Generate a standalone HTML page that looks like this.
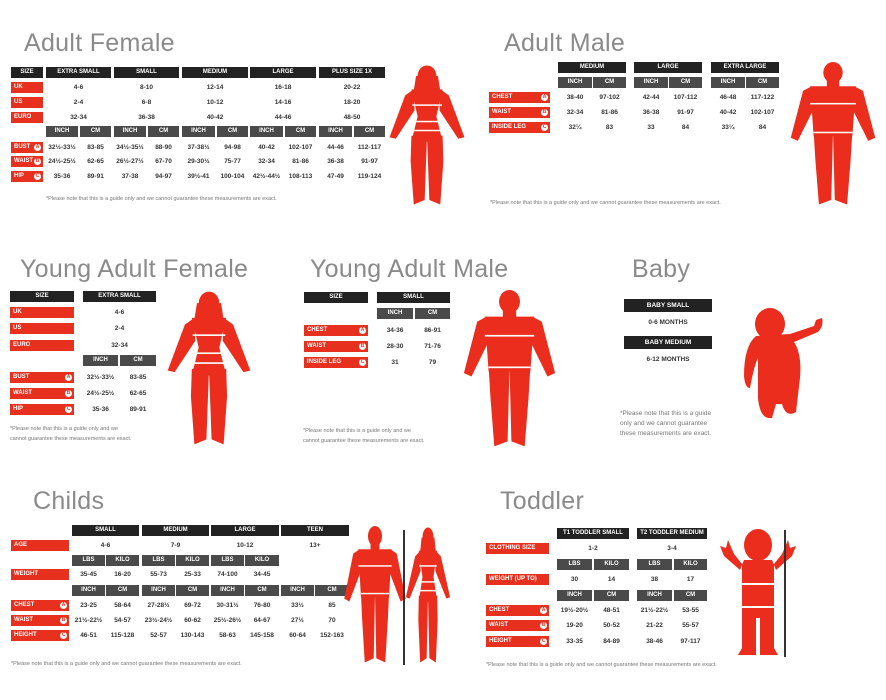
<!DOCTYPE html>
<html><head><meta charset="utf-8">
<style>
body{margin:0;width:886px;height:700px;background:#fff;position:relative;overflow:hidden;font-family:"Liberation Sans",sans-serif}
div{position:absolute;box-sizing:border-box}
.t{font-size:25px;color:#8a8a8a;font-weight:normal;letter-spacing:0.3px;white-space:nowrap}
.b{background:#222;color:#fff;font-size:6px;font-weight:bold;text-align:center;line-height:11px;height:11px}
.g{background:#4a4a4a;color:#fff;font-size:6px;font-weight:bold;text-align:center;line-height:11px;height:11px}
.r{background:#e8301e;color:#fff;font-size:6px;font-weight:bold;line-height:11px;height:11px;padding-left:3px;white-space:nowrap}
.r i{position:absolute;right:2px;top:2px;width:7px;height:7px;border-radius:50%;background:#fff;color:#e8301e;font-style:normal;font-size:5px;line-height:7px;text-align:center}
.v{font-size:6.5px;font-weight:bold;color:#333;text-align:center;line-height:11px;height:11px;white-space:nowrap}
.n{font-size:5.5px;color:#777;white-space:nowrap;line-height:10px}
svg{position:absolute}
</style></head><body>
<svg width="0" height="0" style="position:absolute">
<defs>
<symbol id="h" viewBox="0 0 100 190" preserveAspectRatio="none">
<g fill="#ea2d1c">
<ellipse cx="50" cy="14" rx="11" ry="14"/>
<rect x="43" y="24" width="14" height="10"/>
<polygon points="24,32 76,32 72,98 28,98"/>
<polygon points="26,32 16,38 2,100 10,104 28,62"/>
<polygon points="74,32 84,38 98,100 90,104 72,62"/>
<polygon points="28,92 50,92 48,182 34,188 30,130"/>
<polygon points="72,92 50,92 52,182 66,188 70,130"/>
</g>
<g fill="#fff"><rect x="24" y="54" width="52" height="2"/><rect x="28" y="92" width="44" height="2"/></g>
</symbol>
<symbol id="f" viewBox="0 0 100 190" preserveAspectRatio="none">
<g fill="#ea2d1c">
<ellipse cx="50" cy="16" rx="12" ry="14"/>
<polygon points="36,16 64,16 68,42 32,42"/>
<polygon points="30,34 70,34 62,70 70,104 30,104 38,70"/>
<polygon points="33,34 22,42 2,98 10,100 34,62"/>
<polygon points="67,34 78,42 98,98 90,100 66,62"/>
<polygon points="30,96 50,96 47,182 33,188 29,130"/>
<polygon points="70,96 50,96 53,182 67,188 71,130"/>
</g>
<g fill="#fff"><rect x="31" y="54" width="38" height="2"/><rect x="36" y="76" width="28" height="2"/><rect x="32" y="88" width="36" height="2"/></g>
</symbol>
</defs></svg>

<!-- Adult Female -->
<div class="t" style="left:24px;top:29px">Adult Female</div>
<div class="b" style="left:11px;top:67px;width:32px">SIZE</div>
<div class="b" style="left:46px;top:67px;width:65px">EXTRA SMALL</div>
<div class="b" style="left:114px;top:67px;width:65px">SMALL</div>
<div class="b" style="left:182px;top:67px;width:66px">MEDIUM</div>
<div class="b" style="left:250px;top:67px;width:66px">LARGE</div>
<div class="b" style="left:319px;top:67px;width:66px">PLUS SIZE 1X</div>
<div class="r" style="left:11px;top:82px;width:32px">UK</div>
<div class="r" style="left:11px;top:97px;width:32px">US</div>
<div class="r" style="left:11px;top:112px;width:32px">EURO</div>
<div class="v" style="left:46px;top:82px;width:65px">4-6</div><div class="v" style="left:114px;top:82px;width:65px">8-10</div><div class="v" style="left:182px;top:82px;width:66px">12-14</div><div class="v" style="left:250px;top:82px;width:66px">16-18</div><div class="v" style="left:319px;top:82px;width:66px">20-22</div>
<div class="v" style="left:46px;top:97px;width:65px">2-4</div><div class="v" style="left:114px;top:97px;width:65px">6-8</div><div class="v" style="left:182px;top:97px;width:66px">10-12</div><div class="v" style="left:250px;top:97px;width:66px">14-16</div><div class="v" style="left:319px;top:97px;width:66px">18-20</div>
<div class="v" style="left:46px;top:112px;width:65px">32-34</div><div class="v" style="left:114px;top:112px;width:65px">36-38</div><div class="v" style="left:182px;top:112px;width:66px">40-42</div><div class="v" style="left:250px;top:112px;width:66px">44-46</div><div class="v" style="left:319px;top:112px;width:66px">48-50</div>
<div class="g" style="left:46px;top:126px;width:32px">INCH</div><div class="g" style="left:80px;top:126px;width:31px">CM</div>
<div class="g" style="left:114px;top:126px;width:32px">INCH</div><div class="g" style="left:148px;top:126px;width:31px">CM</div>
<div class="g" style="left:182px;top:126px;width:33px">INCH</div><div class="g" style="left:217px;top:126px;width:31px">CM</div>
<div class="g" style="left:250px;top:126px;width:33px">INCH</div><div class="g" style="left:285px;top:126px;width:31px">CM</div>
<div class="g" style="left:319px;top:126px;width:33px">INCH</div><div class="g" style="left:354px;top:126px;width:31px">CM</div>
<div class="r" style="left:11px;top:142px;width:32px">BUST<i>A</i></div>
<div class="r" style="left:11px;top:156px;width:32px">WAIST<i>B</i></div>
<div class="r" style="left:11px;top:171px;width:32px">HIP<i>C</i></div>
<div class="v" style="left:46px;top:142px;width:32px">32½-33½</div><div class="v" style="left:80px;top:142px;width:31px">83-85</div><div class="v" style="left:114px;top:142px;width:32px">34½-35½</div><div class="v" style="left:148px;top:142px;width:31px">88-90</div><div class="v" style="left:182px;top:142px;width:33px">37-38½</div><div class="v" style="left:217px;top:142px;width:31px">94-98</div><div class="v" style="left:250px;top:142px;width:33px">40-42</div><div class="v" style="left:285px;top:142px;width:31px">102-107</div><div class="v" style="left:319px;top:142px;width:33px">44-46</div><div class="v" style="left:354px;top:142px;width:31px">112-117</div>
<div class="v" style="left:46px;top:156px;width:32px">24½-25½</div><div class="v" style="left:80px;top:156px;width:31px">62-65</div><div class="v" style="left:114px;top:156px;width:32px">26½-27½</div><div class="v" style="left:148px;top:156px;width:31px">67-70</div><div class="v" style="left:182px;top:156px;width:33px">29-30½</div><div class="v" style="left:217px;top:156px;width:31px">75-77</div><div class="v" style="left:250px;top:156px;width:33px">32-34</div><div class="v" style="left:285px;top:156px;width:31px">81-86</div><div class="v" style="left:319px;top:156px;width:33px">36-38</div><div class="v" style="left:354px;top:156px;width:31px">91-97</div>
<div class="v" style="left:46px;top:171px;width:32px">35-36</div><div class="v" style="left:80px;top:171px;width:31px">89-91</div><div class="v" style="left:114px;top:171px;width:32px">37-38</div><div class="v" style="left:148px;top:171px;width:31px">94-97</div><div class="v" style="left:182px;top:171px;width:33px">39½-41</div><div class="v" style="left:217px;top:171px;width:31px">100-104</div><div class="v" style="left:250px;top:171px;width:33px">42½-44½</div><div class="v" style="left:285px;top:171px;width:31px">108-113</div><div class="v" style="left:319px;top:171px;width:33px">47-49</div><div class="v" style="left:354px;top:171px;width:31px">119-124</div>
<div class="n" style="left:46px;top:194px">*Please note that this is a guide only and we cannot guarantee these measurements are exact.</div>
<svg style="left:388px;top:64px" width="78" height="142"><use href="#f" width="78" height="142"/></svg>

<!-- Adult Male -->
<div class="t" style="left:504px;top:29px">Adult Male</div>
<div class="b" style="left:558px;top:62px;width:68px">MEDIUM</div>
<div class="b" style="left:634px;top:62px;width:68px">LARGE</div>
<div class="b" style="left:711px;top:62px;width:68px">EXTRA LARGE</div>
<div class="g" style="left:558px;top:77px;width:34px">INCH</div><div class="g" style="left:593px;top:77px;width:33px">CM</div>
<div class="g" style="left:634px;top:77px;width:34px">INCH</div><div class="g" style="left:669px;top:77px;width:33px">CM</div>
<div class="g" style="left:711px;top:77px;width:34px">INCH</div><div class="g" style="left:746px;top:77px;width:33px">CM</div>
<div class="r" style="left:489px;top:92px;width:61px">CHEST<i>A</i></div>
<div class="r" style="left:489px;top:107px;width:61px">WAIST<i>B</i></div>
<div class="r" style="left:489px;top:122px;width:61px">INSIDE LEG<i>C</i></div>
<div class="v" style="left:558px;top:92px;width:34px">38-40</div><div class="v" style="left:593px;top:92px;width:33px">97-102</div><div class="v" style="left:634px;top:92px;width:34px">42-44</div><div class="v" style="left:669px;top:92px;width:33px">107-112</div><div class="v" style="left:711px;top:92px;width:34px">46-48</div><div class="v" style="left:746px;top:92px;width:33px">117-122</div>
<div class="v" style="left:558px;top:107px;width:34px">32-34</div><div class="v" style="left:593px;top:107px;width:33px">81-86</div><div class="v" style="left:634px;top:107px;width:34px">36-38</div><div class="v" style="left:669px;top:107px;width:33px">91-97</div><div class="v" style="left:711px;top:107px;width:34px">40-42</div><div class="v" style="left:746px;top:107px;width:33px">102-107</div>
<div class="v" style="left:558px;top:122px;width:34px">32¼</div><div class="v" style="left:593px;top:122px;width:33px">83</div><div class="v" style="left:634px;top:122px;width:34px">33</div><div class="v" style="left:669px;top:122px;width:33px">84</div><div class="v" style="left:711px;top:122px;width:34px">33¼</div><div class="v" style="left:746px;top:122px;width:33px">84</div>
<div class="n" style="left:490px;top:198px">*Please note that this is a guide only and we cannot guarantee these measurements are exact.</div>
<svg style="left:789px;top:62px" width="88" height="144"><use href="#h" width="88" height="144"/></svg>

<!-- Young Adult Female -->
<div class="t" style="left:20px;top:255px">Young Adult Female</div>
<div class="b" style="left:10px;top:291px;width:64px">SIZE</div>
<div class="b" style="left:83px;top:291px;width:73px">EXTRA SMALL</div>
<div class="r" style="left:10px;top:307px;width:64px">UK</div><div class="v" style="left:83px;top:307px;width:73px">4-6</div>
<div class="r" style="left:10px;top:323px;width:64px">US</div><div class="v" style="left:83px;top:323px;width:73px">2-4</div>
<div class="r" style="left:10px;top:340px;width:64px">EURO</div><div class="v" style="left:83px;top:340px;width:73px">32-34</div>
<div class="g" style="left:83px;top:355px;width:35px">INCH</div><div class="g" style="left:120px;top:355px;width:36px">CM</div>
<div class="r" style="left:10px;top:372px;width:64px">BUST<i>A</i></div><div class="v" style="left:83px;top:372px;width:35px">32½-33½</div><div class="v" style="left:120px;top:372px;width:36px">83-85</div>
<div class="r" style="left:10px;top:388px;width:64px">WAIST<i>B</i></div><div class="v" style="left:83px;top:388px;width:35px">24½-25½</div><div class="v" style="left:120px;top:388px;width:36px">62-65</div>
<div class="r" style="left:10px;top:404px;width:64px">HIP<i>C</i></div><div class="v" style="left:83px;top:404px;width:35px">35-36</div><div class="v" style="left:120px;top:404px;width:36px">89-91</div>
<div class="n" style="left:10px;top:424px">*Please note that this is a guide only and we<br>cannot guarantee these measurements are exact.</div>
<svg style="left:166px;top:290px" width="86" height="156"><use href="#f" width="86" height="156"/></svg>

<!-- Young Adult Male -->
<div class="t" style="left:310px;top:255px">Young Adult Male</div>
<div class="b" style="left:304px;top:292px;width:64px">SIZE</div>
<div class="b" style="left:377px;top:292px;width:73px">SMALL</div>
<div class="g" style="left:377px;top:308px;width:36px">INCH</div><div class="g" style="left:415px;top:308px;width:35px">CM</div>
<div class="r" style="left:304px;top:325px;width:64px">CHEST<i>A</i></div><div class="v" style="left:377px;top:325px;width:36px">34-36</div><div class="v" style="left:415px;top:325px;width:35px">86-91</div>
<div class="r" style="left:304px;top:341px;width:64px">WAIST<i>B</i></div><div class="v" style="left:377px;top:341px;width:36px">28-30</div><div class="v" style="left:415px;top:341px;width:35px">71-76</div>
<div class="r" style="left:304px;top:357px;width:64px">INSIDE LEG<i>C</i></div><div class="v" style="left:377px;top:357px;width:36px">31</div><div class="v" style="left:415px;top:357px;width:35px">79</div>
<div class="n" style="left:303px;top:426px">*Please note that this is a guide only and we<br>cannot guarantee these measurements are exact.</div>
<svg style="left:462px;top:290px" width="95" height="158"><use href="#h" width="95" height="158"/></svg>

<!-- Baby -->
<div class="t" style="left:632px;top:255px">Baby</div>
<div class="b" style="left:624px;top:299px;width:88px;height:13px;line-height:13px;font-size:6.5px">BABY SMALL</div>
<div class="v" style="left:624px;top:317px;width:88px">0-6 MONTHS</div>
<div class="b" style="left:624px;top:336px;width:88px;height:13px;line-height:13px;font-size:6.5px">BABY MEDIUM</div>
<div class="v" style="left:624px;top:354px;width:88px">6-12 MONTHS</div>
<div class="n" style="left:620px;top:409px;font-size:6.5px">*Please note that this is a guide<br>only and we cannot guarantee<br>these measurements are exact.</div>
<svg style="left:742px;top:306px" width="86" height="118" viewBox="0 0 86 118"><g fill="#ea2d1c"><ellipse cx="28" cy="18" rx="15" ry="16"/><path d="M14 30 Q2 40 2 70 Q3 82 8 82 Q12 60 16 52 L16 92 Q18 114 30 112 L34 98 L40 98 Q44 112 54 106 L58 72 Q60 48 52 36 L76 26 Q82 20 80 12 L74 14 L72 20 L48 28 Z"/></g></svg>

<!-- Childs -->
<div class="t" style="left:33px;top:487px">Childs</div>
<div class="b" style="left:72px;top:525px;width:67px">SMALL</div><div class="b" style="left:142px;top:525px;width:67px">MEDIUM</div><div class="b" style="left:211px;top:525px;width:68px">LARGE</div><div class="b" style="left:281px;top:525px;width:68px">TEEN</div>
<div class="r" style="left:11px;top:540px;width:58px">AGE</div>
<div class="v" style="left:72px;top:540px;width:67px">4-6</div><div class="v" style="left:142px;top:540px;width:67px">7-9</div><div class="v" style="left:211px;top:540px;width:68px">10-12</div><div class="v" style="left:281px;top:540px;width:68px">13+</div>
<div class="g" style="left:72px;top:555px;width:33px">LBS</div><div class="g" style="left:106px;top:555px;width:33px">KILO</div><div class="g" style="left:142px;top:555px;width:33px">LBS</div><div class="g" style="left:176px;top:555px;width:33px">KILO</div><div class="g" style="left:211px;top:555px;width:33px">LBS</div><div class="g" style="left:245px;top:555px;width:34px">KILO</div>
<div class="r" style="left:11px;top:569px;width:58px">WEIGHT</div>
<div class="v" style="left:72px;top:569px;width:33px">35-45</div><div class="v" style="left:106px;top:569px;width:33px">16-20</div><div class="v" style="left:142px;top:569px;width:33px">55-73</div><div class="v" style="left:176px;top:569px;width:33px">25-33</div><div class="v" style="left:211px;top:569px;width:33px">74-100</div><div class="v" style="left:245px;top:569px;width:34px">34-45</div>
<div class="g" style="left:72px;top:585px;width:33px">INCH</div><div class="g" style="left:106px;top:585px;width:33px">CM</div><div class="g" style="left:142px;top:585px;width:33px">INCH</div><div class="g" style="left:176px;top:585px;width:33px">CM</div><div class="g" style="left:211px;top:585px;width:33px">INCH</div><div class="g" style="left:245px;top:585px;width:34px">CM</div><div class="g" style="left:281px;top:585px;width:33px">INCH</div><div class="g" style="left:315px;top:585px;width:34px">CM</div>
<div class="r" style="left:11px;top:600px;width:58px">CHEST<i>A</i></div>
<div class="v" style="left:72px;top:600px;width:33px">23-25</div><div class="v" style="left:106px;top:600px;width:33px">58-64</div><div class="v" style="left:142px;top:600px;width:33px">27-28½</div><div class="v" style="left:176px;top:600px;width:33px">69-72</div><div class="v" style="left:211px;top:600px;width:33px">30-31½</div><div class="v" style="left:245px;top:600px;width:34px">76-80</div><div class="v" style="left:281px;top:600px;width:33px">33½</div><div class="v" style="left:315px;top:600px;width:34px">85</div>
<div class="r" style="left:11px;top:615px;width:58px">WAIST<i>B</i></div>
<div class="v" style="left:72px;top:615px;width:33px">21½-22½</div><div class="v" style="left:106px;top:615px;width:33px">54-57</div><div class="v" style="left:142px;top:615px;width:33px">23½-24½</div><div class="v" style="left:176px;top:615px;width:33px">60-62</div><div class="v" style="left:211px;top:615px;width:33px">25½-26½</div><div class="v" style="left:245px;top:615px;width:34px">64-67</div><div class="v" style="left:281px;top:615px;width:33px">27½</div><div class="v" style="left:315px;top:615px;width:34px">70</div>
<div class="r" style="left:11px;top:630px;width:58px">HEIGHT<i>C</i></div>
<div class="v" style="left:72px;top:630px;width:33px">46-51</div><div class="v" style="left:106px;top:630px;width:33px">115-128</div><div class="v" style="left:142px;top:630px;width:33px">52-57</div><div class="v" style="left:176px;top:630px;width:33px">130-143</div><div class="v" style="left:211px;top:630px;width:33px">58-63</div><div class="v" style="left:245px;top:630px;width:34px">145-158</div><div class="v" style="left:281px;top:630px;width:33px">60-64</div><div class="v" style="left:315px;top:630px;width:34px">152-163</div>
<div class="n" style="left:11px;top:659px">*Please note that this is a guide only and we cannot guarantee these measurements are exact.</div>
<svg style="left:343px;top:526px" width="64" height="138"><use href="#h" width="64" height="138"/></svg>
<div style="left:403px;top:530px;width:1.5px;height:135px;background:#333"></div>
<svg style="left:405px;top:526px" width="46" height="138"><use href="#f" width="46" height="138"/></svg>

<!-- Toddler -->
<div class="t" style="left:500px;top:487px">Toddler</div>
<div class="b" style="left:557px;top:528px;width:72px">T1 TODDLER SMALL</div><div class="b" style="left:637px;top:528px;width:70px">T2 TODDLER MEDIUM</div>
<div class="r" style="left:486px;top:543px;width:63px">CLOTHING SIZE</div>
<div class="v" style="left:557px;top:543px;width:72px">1-2</div><div class="v" style="left:637px;top:543px;width:70px">3-4</div>
<div class="g" style="left:557px;top:559px;width:35px">LBS</div><div class="g" style="left:594px;top:559px;width:35px">KILO</div><div class="g" style="left:637px;top:559px;width:35px">LBS</div><div class="g" style="left:674px;top:559px;width:33px">KILO</div>
<div class="r" style="left:486px;top:574px;width:63px">WEIGHT (UP TO)</div>
<div class="v" style="left:557px;top:574px;width:35px">30</div><div class="v" style="left:594px;top:574px;width:35px">14</div><div class="v" style="left:637px;top:574px;width:35px">38</div><div class="v" style="left:674px;top:574px;width:33px">17</div>
<div class="g" style="left:557px;top:590px;width:35px">INCH</div><div class="g" style="left:594px;top:590px;width:35px">CM</div><div class="g" style="left:637px;top:590px;width:35px">INCH</div><div class="g" style="left:674px;top:590px;width:33px">CM</div>
<div class="r" style="left:486px;top:605px;width:63px">CHEST<i>A</i></div>
<div class="v" style="left:557px;top:605px;width:35px">19½-20½</div><div class="v" style="left:594px;top:605px;width:35px">48-51</div><div class="v" style="left:637px;top:605px;width:35px">21½-22½</div><div class="v" style="left:674px;top:605px;width:33px">53-55</div>
<div class="r" style="left:486px;top:620px;width:63px">WAIST<i>B</i></div>
<div class="v" style="left:557px;top:620px;width:35px">19-20</div><div class="v" style="left:594px;top:620px;width:35px">50-52</div><div class="v" style="left:637px;top:620px;width:35px">21-22</div><div class="v" style="left:674px;top:620px;width:33px">55-57</div>
<div class="r" style="left:486px;top:636px;width:63px">HEIGHT<i>C</i></div>
<div class="v" style="left:557px;top:636px;width:35px">33-35</div><div class="v" style="left:594px;top:636px;width:35px">84-89</div><div class="v" style="left:637px;top:636px;width:35px">38-46</div><div class="v" style="left:674px;top:636px;width:33px">97-117</div>
<div class="n" style="left:486px;top:660px">*Please note that this is a guide only and we cannot guarantee these measurements are exact.</div>
<svg style="left:718px;top:528px" width="80" height="130" viewBox="0 0 80 130"><g fill="#ea2d1c"><ellipse cx="40" cy="17" rx="14" ry="16"/><polygon points="26,32 54,32 58,42 74,28 78,18 72,20 70,12 64,26 56,36 24,36 16,26 10,12 8,20 2,18 6,28 22,42 26,32"/><polygon points="24,36 56,36 56,120 60,127 42,127 42,90 38,90 38,127 20,127 24,120"/></g><g fill="#fff"><rect x="24" y="55" width="32" height="2"/><rect x="24" y="78" width="32" height="2"/></g></svg>
<div style="left:784px;top:530px;width:1.5px;height:127px;background:#333"></div>
</body></html>
